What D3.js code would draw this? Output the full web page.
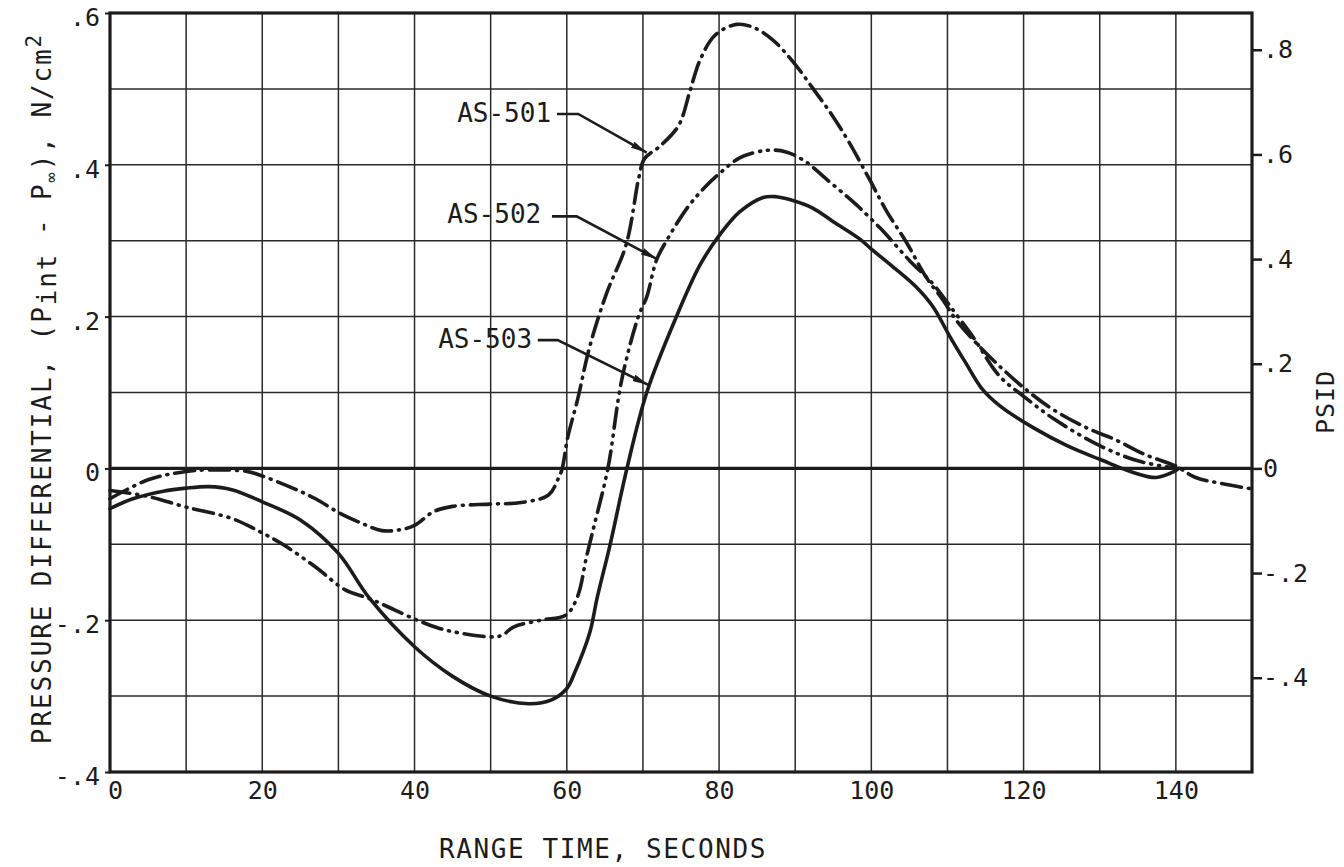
<!DOCTYPE html>
<html><head><meta charset="utf-8">
<script src="https://cdn.jsdelivr.net/npm/d3@7"></script>
<style>
body{margin:0;background:#fff}
text{font-family:"DejaVu Sans Mono",monospace;fill:#1c1c1c}
</style>
</head><body>
<svg id="c" width="1344" height="867"></svg>
<script>
// ---------- data ----------
const xTicks = [0, 20, 40, 60, 80, 100, 120, 140];
const yTicks = [-0.4, -0.2, 0, 0.2, 0.4, 0.6];
const yTickLabels = ["-.4", "-.2", "0", ".2", ".4", ".6"];
const psiTicks = [-0.4, -0.2, 0, 0.2, 0.4, 0.6, 0.8];
const psiTickLabels = ["-.4", "-.2", "0", ".2", ".4", ".6", ".8"];
const seriesNames = ["AS-501", "AS-502", "AS-503"];

const t501 = [0, 5, 10, 13, 18, 20, 24, 27, 30, 33, 35.7, 38, 40, 42.5, 45, 50, 54, 57.6, 58.9, 59.4, 60.1, 61.4, 63, 65.2, 67.8, 69.5, 70.2, 72.3, 74.7, 76.2, 77.5, 79.5, 82.3, 84.5, 87, 89.7, 92.3, 94.8, 97, 99.8, 102, 104.6, 107.2, 109.4, 111.1, 113.8, 116.8, 120.3, 123.8, 128.6, 132, 136, 140, 142.6, 146, 150];
const v501 = [-0.04, -0.015, -0.004, -0.002, -0.004, -0.01, -0.026, -0.04, -0.058, -0.072, -0.082, -0.081, -0.075, -0.057, -0.05, -0.047, -0.045, -0.035, -0.013, 0, 0.04, 0.09, 0.16, 0.23, 0.295, 0.385, 0.408, 0.425, 0.452, 0.498, 0.538, 0.571, 0.585, 0.581, 0.565, 0.536, 0.501, 0.466, 0.431, 0.38, 0.339, 0.298, 0.252, 0.222, 0.196, 0.165, 0.135, 0.104, 0.078, 0.052, 0.038, 0.018, 0.003, -0.012, -0.02, -0.027];

const t502 = [0, 5, 10, 16, 20, 23, 27, 30.9, 33.9, 36, 39.9, 43, 46, 50, 51.5, 53, 56.6, 59.9, 61.4, 62.6, 63.6, 65.4, 67.2, 69.4, 70.5, 71.8, 73.1, 75.8, 78, 80.1, 82.7, 86.2, 88.8, 91.4, 94, 96.6, 98.5, 101.5, 105, 108.1, 110.7, 113.3, 116.8, 120, 124, 130, 135, 140];
const v502 = [-0.029, -0.037, -0.051, -0.066, -0.085, -0.102, -0.13, -0.16, -0.171, -0.18, -0.198, -0.21, -0.217, -0.222, -0.22, -0.209, -0.2, -0.193, -0.169, -0.116, -0.075, 0, 0.116, 0.2, 0.226, 0.275, 0.3, 0.343, 0.369, 0.389, 0.409, 0.419, 0.417, 0.404, 0.382, 0.36, 0.343, 0.313, 0.274, 0.243, 0.209, 0.174, 0.122, 0.095, 0.065, 0.03, 0.01, 0];

const t503 = [0, 3, 7, 10, 13, 16, 20, 25, 30, 34, 40, 45, 50, 55, 58, 60, 61, 63, 64, 65.7, 67.9, 70.5, 74.4, 77.5, 80.1, 82.7, 85.8, 87.5, 89.7, 92.3, 95, 98.5, 100, 102.8, 105.9, 108.1, 110.3, 112.4, 114.6, 116.8, 121.2, 125.7, 130, 134.3, 137.4, 139.6, 140.4];
const v503 = [-0.053, -0.04, -0.03, -0.026, -0.024, -0.028, -0.044, -0.068, -0.112, -0.17, -0.235, -0.274, -0.3, -0.31, -0.305, -0.29, -0.27, -0.217, -0.17, -0.1, 0, 0.1, 0.2, 0.268, 0.308, 0.338, 0.357, 0.358, 0.353, 0.343, 0.325, 0.302, 0.289, 0.266, 0.239, 0.213, 0.174, 0.139, 0.104, 0.083, 0.054, 0.03, 0.012, -0.005, -0.012, -0.005, 0];

// annotation anchors in data units: text start, leader start, elbow, arrow tip
const annText  = [[45.6, 0.456], [44.3, 0.323], [43.1, 0.159]];
const annStart = [[58.7, 0.467], [58.05, 0.332], [56.2, 0.169]];
const annElbow = [[61.5, 0.467], [61.3, 0.332], [58.8, 0.169]];
const annTip   = [[70.5, 0.416], [71.8, 0.276], [70.7, 0.11]];

const PSI_PER_NCM2 = 1.45038;

// ---------- chart ----------
const svg = d3.select("#c");
const L = 110, R = 1252, T = 13, B = 772;
const x = d3.scaleLinear([0, 150], [L, R]);
const y = d3.scaleLinear([-0.4, 0.6], [B, T]);
const yPsi = d3.scaleLinear([-0.4 * PSI_PER_NCM2, 0.6 * PSI_PER_NCM2], [B, T]);
const ink = "#1c1c1c";

// grid
const grid = svg.append("g").attr("stroke", "#2a2a2a").attr("stroke-width", 1.5);
grid.selectAll("line.v").data(d3.range(10, 150, 10)).join("line")
  .attr("x1", d => x(d)).attr("x2", d => x(d)).attr("y1", T).attr("y2", B);
grid.selectAll("line.h").data(d3.range(-3, 6).map(d => d / 10)).join("line")
  .attr("x1", L).attr("x2", R).attr("y1", d => y(d)).attr("y2", d => y(d));

// zero line
svg.append("line").attr("x1", L).attr("x2", R).attr("y1", y(0)).attr("y2", y(0))
  .attr("stroke", ink).attr("stroke-width", 3.2);

// frame
svg.append("rect").attr("x", L).attr("y", T).attr("width", R - L).attr("height", B - T)
  .attr("fill", "none").attr("stroke", ink).attr("stroke-width", 3.2);

// axes
const fs = 25;
const xAx = svg.append("g").attr("transform", `translate(0,${B})`)
  .call(d3.axisBottom(x).tickValues(xTicks).tickSize(0).tickPadding(9).tickFormat(d3.format("d")));
xAx.select(".domain").remove();
xAx.selectAll("text").attr("font-size", fs).attr("font-family", "DejaVu Sans Mono").attr("fill", ink)
  .attr("dx", d => d === 0 ? 5 : 0);

const yAx = svg.append("g").attr("transform", `translate(${L},0)`)
  .call(d3.axisLeft(y).tickValues(yTicks).tickSize(5).tickPadding(5).tickFormat((d, i) => yTickLabels[i]));
yAx.select(".domain").remove();
yAx.selectAll("line").attr("stroke", ink).attr("stroke-width", 2);
yAx.selectAll("text").attr("font-size", fs).attr("font-family", "DejaVu Sans Mono").attr("fill", ink).attr("dy", "0.5em");

const rAx = svg.append("g").attr("transform", `translate(${R},0)`)
  .call(d3.axisRight(yPsi).tickValues(psiTicks).tickSize(10).tickPadding(1).tickFormat((d, i) => psiTickLabels[i]));
rAx.select(".domain").remove();
rAx.selectAll("line").attr("stroke", ink).attr("stroke-width", 2.5);
rAx.selectAll("text").attr("font-size", fs).attr("font-family", "DejaVu Sans Mono").attr("fill", ink);

// axis titles
svg.append("text").attr("x", 603).attr("y", 858).attr("text-anchor", "middle")
  .attr("font-size", 26).attr("letter-spacing", 1.6).text("RANGE TIME, SECONDS");

const yt = svg.append("text").attr("transform", `translate(51,${(T + B) / 2 - 4}) rotate(-90)`)
  .attr("text-anchor", "middle").attr("font-size", 26).attr("letter-spacing", 1.9);
yt.append("tspan").text("PRESSURE DIFFERENTIAL, (P");
yt.append("tspan").attr("dy", 5).text("int");
yt.append("tspan").attr("dy", -5).text(" - P");
yt.append("tspan").attr("dy", 6).attr("font-size", 17).text("∞");
yt.append("tspan").attr("dy", -6).text("), N/cm");
yt.append("tspan").attr("dy", -10).attr("font-size", 21).text("2");

svg.append("text").attr("transform", `translate(1334,402) rotate(-90)`)
  .attr("text-anchor", "middle").attr("font-size", 25).attr("letter-spacing", 1).text("PSID");

// curves
const series = [
  {t: t501, v: v501, dash: "20,7,1,7"},
  {t: t502, v: v502, dash: "20,7,1,7,1,7"},
  {t: t503, v: v503, dash: null}
];
const line = d3.line().x(d => x(d[0])).y(d => y(d[1])).curve(d3.curveCatmullRom.alpha(0.5));
svg.append("g").selectAll("path").data(series).join("path")
  .attr("d", s => line(s.t.map((t, i) => [t, s.v[i]])))
  .attr("fill", "none").attr("stroke", ink).attr("stroke-width", 3.6)
  .attr("stroke-linecap", "round").attr("stroke-linejoin", "round")
  .attr("stroke-dasharray", s => s.dash);

// annotations
const defs = svg.append("defs");
defs.append("marker").attr("id", "ah").attr("viewBox", "0 0 16 8").attr("refX", 16).attr("refY", 4)
  .attr("markerWidth", 16).attr("markerHeight", 8).attr("markerUnits", "userSpaceOnUse").attr("orient", "auto")
  .append("path").attr("d", "M0,0.5 L16,4 L0,7.5 Z").attr("fill", ink);

const ann = svg.append("g");
seriesNames.forEach((name, i) => {
  ann.append("text").attr("x", x(annText[i][0])).attr("y", y(annText[i][1]))
    .attr("font-size", 26).text(name);
  ann.append("path")
    .attr("d", d3.line()([annStart[i], annElbow[i], annTip[i]].map(p => [x(p[0]), y(p[1])])))
    .attr("fill", "none").attr("stroke", ink).attr("stroke-width", 2.6).attr("marker-end", "url(#ah)");
});
</script>
</body></html>
